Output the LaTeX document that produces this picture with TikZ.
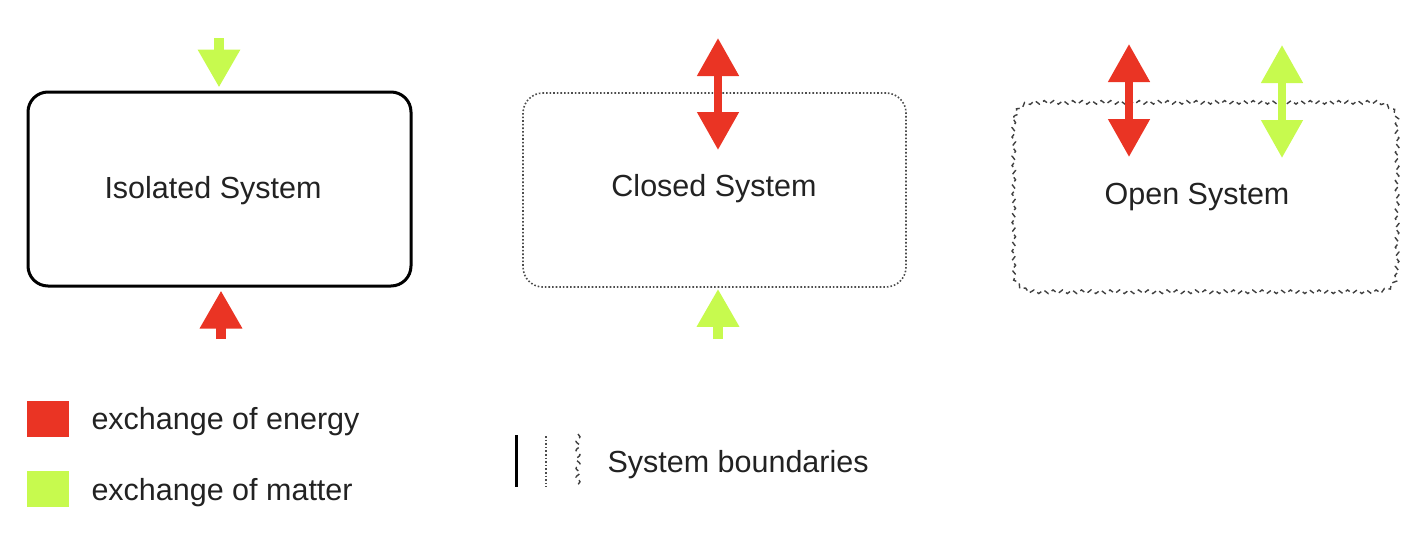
\documentclass[tikz,border=0pt]{standalone}
\usepackage{fontspec}
\setmainfont{Liberation Sans}
\usetikzlibrary{arrows.meta,decorations.pathmorphing,positioning}
\definecolor{energy}{RGB}{234,52,36}
\definecolor{matter}{RGB}{199,250,78}
\definecolor{txt}{RGB}{34,34,34}

\tikzset{
  sysbox/.style={rectangle, rounded corners=20pt, minimum width=383pt, minimum height=194pt,
    font=\fontsize{30.5}{36}\selectfont, text=txt},
  isolbound/.style={draw=black, line width=3pt},
  closbound/.style={draw=black!70, line width=1.6pt, dotted},
  openbound/.style={draw=black!75, line width=1.4pt, dash pattern=on 5pt off 4pt,
    decorate, decoration={snake, amplitude=1.8pt, segment length=9.5pt}},
  flow/.style={line width=10pt, -{Triangle[width=40pt,length=38pt]}},
  flowboth/.style={line width=8pt, {Triangle[width=40pt,length=38pt]}-{Triangle[width=40pt,length=38pt]}},
  keybox/.style={minimum width=42pt, minimum height=36pt, inner sep=0pt},
  keytext/.style={anchor=west, font=\fontsize{30.5}{36}\selectfont, text=txt},
}

\begin{document}
\begin{tikzpicture}[x=1pt, y=-1pt]
  \useasboundingbox (0,0) rectangle (1426,538);

  % the three systems
  \node[sysbox, isolbound] (isolated) at (219.5,189) {};
  \node[sysbox, closbound] (closed) at (714.5,190) {};
  \node[sysbox, minimum height=189pt] (open) at (1205.5,194.5) {};
  \path[rounded corners=20pt, postaction={openbound, sharp corners}]
    (open.north west) rectangle (open.south east);

  \node[sysbox] (isolated-lbl) at (213,191) {Isolated System};
  \node[sysbox] (closed-lbl) at (714,189) {Closed System};
  \node[sysbox] (open-lbl) at (1197,197) {Open System};

  % isolated: nothing gets through
  \coordinate (iso-m) at (219,38);
  \coordinate (iso-e) at (221,339);
  \draw[flow, matter] (iso-m) -- ([yshift=3pt]iso-m |- isolated.north);
  \draw[flow, energy] (iso-e) -- ([yshift=-3pt]iso-e |- isolated.south);

  % closed: energy yes, matter no
  \coordinate (clo-e1) at (718,38);
  \coordinate (clo-e2) at (718,150);
  \coordinate (clo-m) at (718,339);
  \draw[flowboth, energy] (clo-e1) -- (clo-e2);
  \draw[flow, matter] (clo-m) -- ([yshift=-1pt]clo-m |- closed.south);

  % open: both
  \coordinate (opn-e1) at (1129,44);
  \coordinate (opn-e2) at (1129,157);
  \coordinate (opn-m1) at (1282,45);
  \coordinate (opn-m2) at (1282,158);
  \draw[flowboth, energy] (opn-e1) -- (opn-e2);
  \draw[flowboth, matter] (opn-m1) -- (opn-m2);

  % legend
  \node[keybox, fill=energy] (key-e) at (48,419) {};
  \node[keybox, fill=matter] (key-m) at (48,489) {};
  \node[keytext] (lbl-e) at (88,422) {exchange of energy};
  \node[keytext] (lbl-m) at (88,493) {exchange of matter};

  \coordinate (b1a) at (516,435);  \coordinate (b1b) at (516,487);
  \coordinate (b2a) at (546,436);  \coordinate (b2b) at (546,487);
  \coordinate (b3a) at (578,434);  \coordinate (b3b) at (578,488);
  \draw[black, line width=3pt] (b1a) -- (b1b);
  \draw[closbound] (b2a) -- (b2b);
  \draw[openbound, decoration={segment length=9pt, amplitude=2pt}] (b3a) -- (b3b);
  \node[keytext] (lbl-b) at (604,465) {System boundaries};
\end{tikzpicture}
\end{document}
